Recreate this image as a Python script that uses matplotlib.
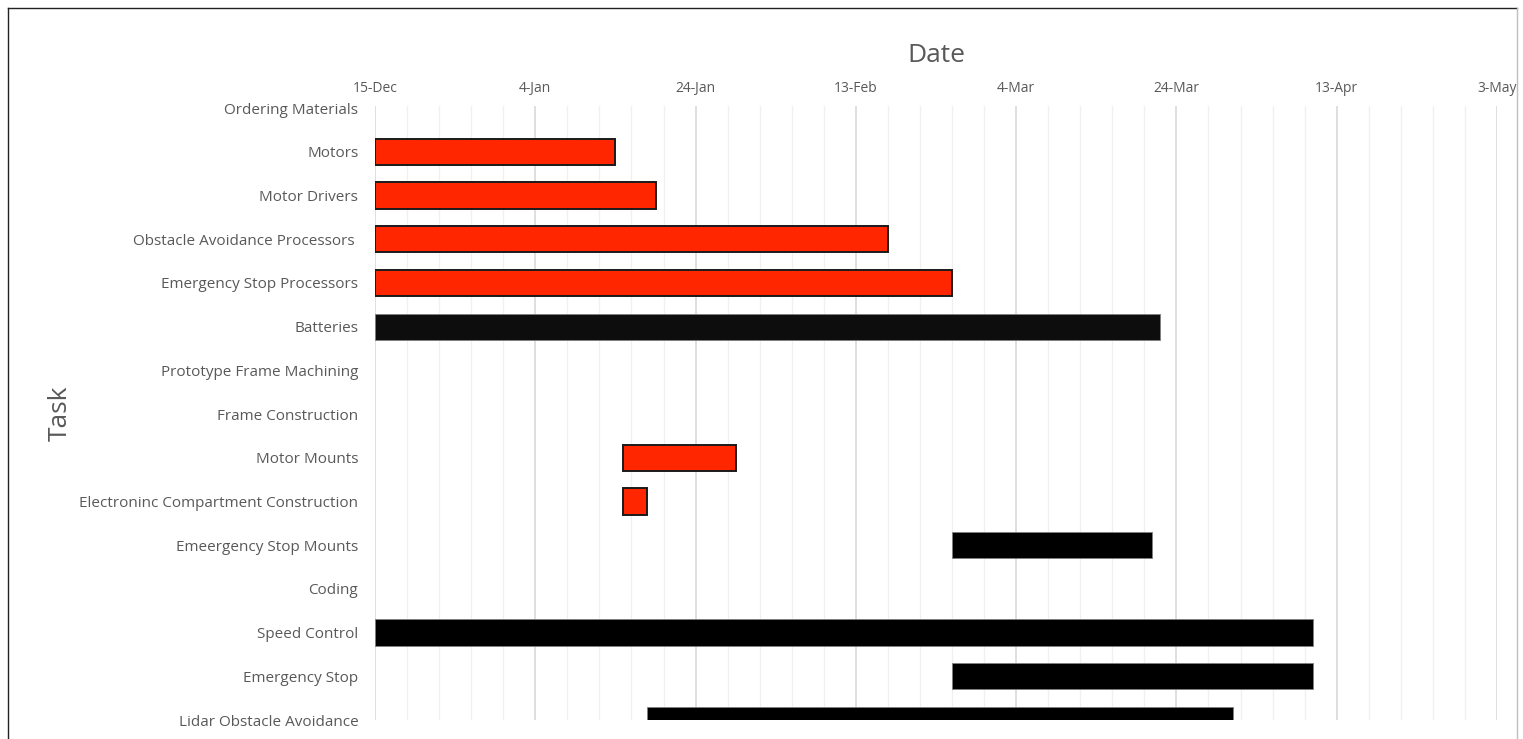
import matplotlib
matplotlib.use("Agg")
import matplotlib.pyplot as plt
import matplotlib.dates as mdates
from matplotlib.lines import Line2D
from matplotlib.ticker import FixedLocator, FixedFormatter
import datetime as dt

# ---------------- data ----------------
tasks = ["Ordering Materials", "Motors", "Motor Drivers",
         "Obstacle Avoidance Processors ", "Emergency Stop Processors",
         "Batteries", "Prototype Frame Machining", "Frame Construction",
         "Motor Mounts", "Electroninc Compartment Construction",
         "Emeergency Stop Mounts", "Coding", "Speed Control",
         "Emergency Stop", "Lidar Obstacle Avoidance"]
start_dates = [None, "2019-12-15", "2019-12-15", "2019-12-15", "2019-12-15",
               "2019-12-15", None, None, "2020-01-15", "2020-01-15",
               "2020-02-25", None, "2019-12-15", "2020-02-25", "2020-01-18"]
durations = [0, 30, 35, 64, 72, 98, 0, 0, 14, 3, 25, 0, 117, 45, 73]
bar_colors = [None, "#FF2600", "#FF2600", "#FF2600", "#FF2600", "#0D0D0D",
              None, None, "#FF2600", "#FF2600", "#000000", None,
              "#000000", "#000000", "#000000"]
tick_dates = ["2019-12-15", "2020-01-04", "2020-01-24", "2020-02-13",
              "2020-03-04", "2020-03-24", "2020-04-13", "2020-05-03"]
tick_labels = ["15-Dec", "4-Jan", "24-Jan", "13-Feb", "4-Mar", "24-Mar",
               "13-Apr", "3-May"]
x_start = "2019-12-15"
x_end = "2020-05-03"

# ---------------- figure ----------------
plt.rcParams['font.family'] = ['Open Sans', 'DejaVu Sans']
W, H = 1523, 739
fig = plt.figure(figsize=(W / 100, H / 100), dpi=100)
ax = fig.add_axes([375 / W, 1 - 720 / H, (1497 - 375) / W, (720 - 106) / H])

def d2n(s):
    return mdates.date2num(dt.datetime.strptime(s, "%Y-%m-%d"))

label_color = "#595959"
for i, (s, d, c) in enumerate(zip(start_dates, durations, bar_colors)):
    if s is None or d == 0:
        continue
    red = c.upper() == "#FF2600"
    ax.barh(i, d, left=d2n(s), height=0.6, color=c,
            edgecolor="#1a1a1a" if red else "#7f7f7f",
            linewidth=1.4 if red else 0.6, zorder=3)

ax.set_xlim(d2n(x_start), d2n(x_end))
ax.set_ylim(len(tasks) - 1, -0.05)
ax.set_yticks(range(len(tasks)))
ax.set_yticklabels(tasks)

major = [d2n(t) for t in tick_dates]
ax.xaxis.set_major_locator(FixedLocator(major))
ax.xaxis.set_major_formatter(FixedFormatter(tick_labels))
minor = [m + k * 4 for m in major[:-1] for k in range(1, 5)]
ax.xaxis.set_minor_locator(FixedLocator(minor))

ax.xaxis.tick_top()
ax.tick_params(axis='x', which='both', length=0, pad=7, labelsize=10,
               labelcolor=label_color, top=False, bottom=False)
ax.tick_params(axis='y', length=0, pad=12, labelsize=11, labelcolor=label_color)

ax.grid(True, axis='x', which='major', color="#D9D9D9", linewidth=1.2, zorder=0)
ax.grid(True, axis='x', which='minor', color="#F0F0F0", linewidth=1.0, zorder=0)
ax.grid(False, axis='y')
for sp in ax.spines.values():
    sp.set_visible(False)
ax.set_axisbelow(True)

fig.text(936 / W, 1 - 55 / H, "Date", ha='center', va='center',
         fontsize=19, color=label_color)
fig.text(60 / W, 1 - 413 / H, "Task", ha='center', va='center',
         fontsize=19, color=label_color, rotation=90)

# chart border (left and top dark, right light)
L, T, R = 7.5 / W, 1 - 7.5 / H, 1516.5 / W
fig.add_artist(Line2D([L, L], [0, T], transform=fig.transFigure,
                      color="#222222", linewidth=1.0))
fig.add_artist(Line2D([L, R], [T, T], transform=fig.transFigure,
                      color="#222222", linewidth=1.0))
fig.add_artist(Line2D([R, R], [0, T], transform=fig.transFigure,
                      color="#BFBFBF", linewidth=1.0))

fig.savefig("out.png", dpi=100)
